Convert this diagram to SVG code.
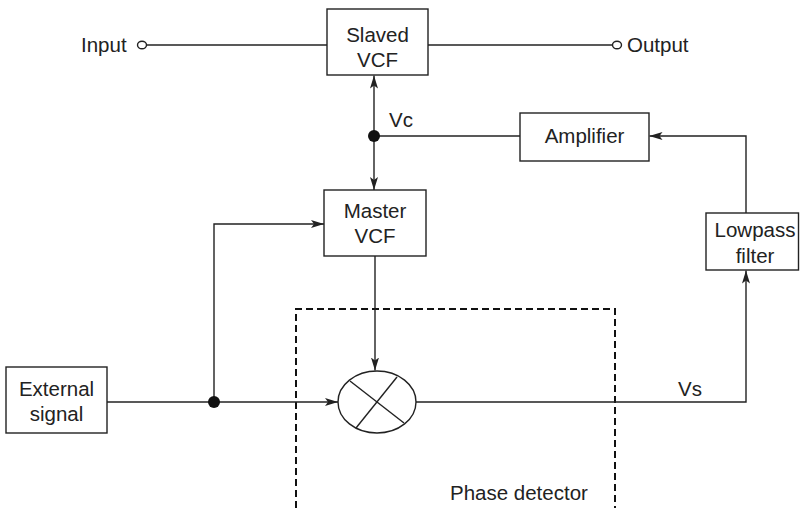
<svg xmlns="http://www.w3.org/2000/svg" width="800" height="508" viewBox="0 0 800 508">
<defs>
<marker id="arr" viewBox="0 0 13 8" refX="13" refY="4" markerWidth="13" markerHeight="8" markerUnits="userSpaceOnUse" orient="auto">
<path d="M0,0 L13,4 L0,8 L3,4 Z" fill="#222"/>
</marker>
</defs>
<style>
.box{fill:#fff;stroke:#222;stroke-width:1.4}
.ln{fill:none;stroke:#222;stroke-width:1.4}
.t{font-family:"Liberation Sans",Arial,sans-serif;font-size:20.5px;fill:#222}
.c{text-anchor:middle}
</style>
<rect width="800" height="508" fill="#fff"/>
<g id="phase-detector">
<path d="M296,508 V309 H615 V508" fill="none" stroke="#111" stroke-width="2" stroke-dasharray="7,4"/>
<text class="t" x="450" y="500">Phase detector</text>
</g>
<g id="connectors">
<ellipse cx="142" cy="45" rx="4.5" ry="3.8" class="ln"/>
<line x1="146.5" y1="45" x2="327" y2="45" class="ln"/>
<line x1="428" y1="45" x2="612.5" y2="45" class="ln"/>
<ellipse cx="617" cy="45" rx="4.5" ry="3.8" class="ln"/>
<line x1="374" y1="136" x2="374" y2="75.5" class="ln" marker-end="url(#arr)"/>
<line x1="374" y1="136" x2="374" y2="190" class="ln" marker-end="url(#arr)"/>
<line x1="374" y1="136" x2="520" y2="136" class="ln"/>
<circle cx="374" cy="136" r="6" fill="#111"/>
<path d="M746,213 V136 H649.5" class="ln" marker-end="url(#arr)"/>
<path d="M416,402 H746 V270.5" class="ln" marker-end="url(#arr)"/>
<line x1="375" y1="256" x2="375" y2="370.5" class="ln" marker-end="url(#arr)"/>
<line x1="107" y1="402" x2="338" y2="402" class="ln" marker-end="url(#arr)"/>
<path d="M214,402 V224 H324" class="ln" marker-end="url(#arr)"/>
<circle cx="214" cy="402" r="6" fill="#111"/>
<text class="t" x="389" y="127">Vc</text>
<text class="t" x="678" y="396">Vs</text>
</g>
<g id="input">
<text class="t" x="81" y="52">Input</text>
</g>
<g id="output">
<text class="t" x="627" y="52">Output</text>
</g>
<g id="slaved-vcf">
<rect class="box" x="327" y="9" width="101" height="66"/>
<text class="t c" x="377.5" y="42">Slaved</text>
<text class="t c" x="377.5" y="67">VCF</text>
</g>
<g id="amplifier">
<rect class="box" x="520" y="113" width="129" height="48"/>
<text class="t c" x="584.5" y="143">Amplifier</text>
</g>
<g id="master-vcf">
<rect class="box" x="324" y="190" width="102" height="66"/>
<text class="t c" x="375" y="218">Master</text>
<text class="t c" x="375" y="243">VCF</text>
</g>
<g id="lowpass-filter">
<rect class="box" x="706" y="213" width="92.5" height="57"/>
<text class="t c" x="755" y="237">Lowpass</text>
<text class="t c" x="755" y="263">filter</text>
</g>
<g id="external-signal">
<rect class="box" x="6" y="367" width="101" height="66"/>
<text class="t c" x="56.5" y="396">External</text>
<text class="t c" x="56.5" y="421">signal</text>
</g>
<g id="mixer">
<ellipse cx="377" cy="402" rx="39" ry="31" class="box"/>
<line x1="350" y1="381" x2="404" y2="423" class="ln"/>
<line x1="397" y1="377" x2="356" y2="428" class="ln"/>
</g>
</svg>
